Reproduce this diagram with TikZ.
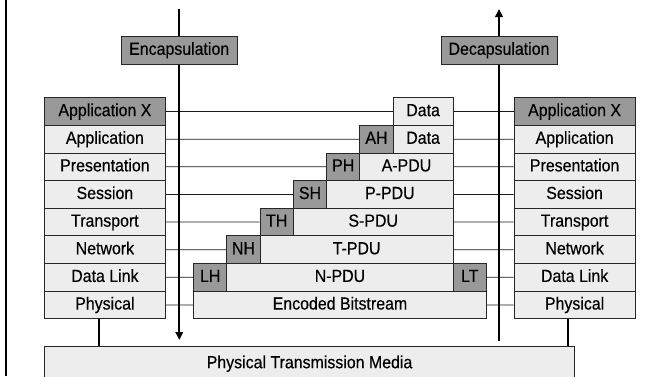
\documentclass[tikz,border=0pt]{standalone}
\usepackage{fontspec}
\setmainfont{Liberation Sans}[FakeStretch=0.91, FakeBold=0.4]
\usetikzlibrary{arrows.meta, positioning}
\definecolor{darkgrey}{HTML}{999999}
\definecolor{lightgrey}{HTML}{EDEDED}

\begin{document}
\begin{tikzpicture}[x=1pt,y=-1pt,
  layer/.style={draw=black!85, line width=0.8pt, fill=lightgrey, inner sep=0pt,
    minimum width=121pt, minimum height=27.63pt, anchor=north west,
    text height=12.6pt, text depth=3.4pt,
    font=\fontsize{17.5}{20}\selectfont},
  hdr/.style={layer, fill=darkgrey, minimum width=33.25pt},
  pdu/.style={layer, minimum width=#1},
  tag/.style={layer, fill=darkgrey, minimum width=116pt, anchor=center},
  link/.style={line width=0.7pt, draw=black!90},
  flow/.style={line width=2.3pt, -{Triangle[length=8pt,width=7.5pt]}},
  stem/.style={line width=2.2pt}]

\useasboundingbox (0,0) rectangle (650,376);
\draw[line width=1.6pt] (6,0) -- (6,376);

%% ================= the two protocol stacks ================================
\node[layer, fill=darkgrey] (L1) at (44,97.3)    {Application X};
\node[layer, fill=darkgrey] (R1) at (513.7,97.3) {Application X};
\foreach \i/\t in {2/Application,3/Presentation,4/Session,5/Transport,
                   6/Network,7/Data Link,8/Physical} {
  \node[layer] (L\i) at (44,{97.3+(\i-1)*27.63})    {\t};
  \node[layer] (R\i) at (513.7,{97.3+(\i-1)*27.63}) {\t};}

%% ================= headers and PDUs, one row per layer ====================
\node[pdu=60pt]     (D1) at (392.7,97.3)   {Data};
\node[hdr]          (H2) at (359.45,124.93) {AH};
\node[pdu=60pt]     (D2) at (392.7,124.93) {Data};
\node[hdr]          (H3) at (326.2,152.56) {PH};
\node[pdu=93.25pt]  (D3) at (359.45,152.56) {A-PDU};
\node[hdr]          (H4) at (292.95,180.19) {SH};
\node[pdu=126.5pt]  (D4) at (326.2,180.19) {P-PDU};
\node[hdr]          (H5) at (259.7,207.82) {TH};
\node[pdu=159.75pt] (D5) at (292.95,207.82) {S-PDU};
\node[hdr]          (H6) at (226.45,235.45) {NH};
\node[pdu=193pt]    (D6) at (259.7,235.45) {T-PDU};
\node[hdr]          (H7) at (193.2,263.08) {LH};
\node[pdu=226.25pt] (D7) at (226.45,263.08) {N-PDU};
\node[hdr]          (T7) at (452.7,263.08) {LT};
\node[pdu=292.75pt] (B8) at (193.2,290.71) {Encoded Bitstream};

%% ================= peer links across the rows =============================
\foreach \i/\g/\d in {1/D1/D1, 2/H2/D2, 3/H3/D3, 4/H4/D4,
                      5/H5/D5, 6/H6/D6, 7/H7/T7, 8/B8/B8} {
  \draw[link] (L\i.east) -- (\g.west);
  \draw[link] (\d.east) -- (R\i.west);}

%% ================= encapsulation / decapsulation ==========================
\coordinate (encTop) at (179.3,9);   \coordinate (encEnd) at (179.3,340);
\coordinate (decEnd) at (499,9);     \coordinate (decBot) at (499,341);
\draw[flow] (encTop) -- (encEnd);
\draw[flow] (decBot) -- (decEnd);
\node[tag] (enc) at (179.2,50.2) {Encapsulation};
\node[tag] (dec) at (499,50.2)   {Decapsulation};

%% ================= physical medium ========================================
\node[layer, minimum width=530.3pt, minimum height=35pt] (M) at (44,345.7)
  {Physical Transmission Media};
\draw[stem] ([xshift=55.3]L8.south west) -- ([xshift=55.3]L8.south west |- M.north);
\draw[stem] ([xshift=54.6]R8.south west) -- ([xshift=54.6]R8.south west |- M.north);
\end{tikzpicture}
\end{document}
